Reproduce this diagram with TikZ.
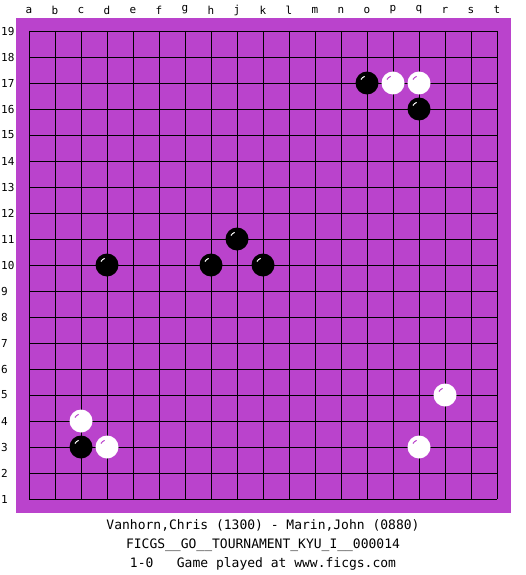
\documentclass[tikz,border=0pt]{standalone}
\usepackage{fontspec}
\setmonofont{DejaVu Sans Mono}
\usepackage{tikz}
\usetikzlibrary{positioning}
\usepackage{xcolor}
\definecolor{boardpurple}{RGB}{186,67,204}
\definecolor{gridblack}{RGB}{0,0,0}

\begin{document}
\begin{tikzpicture}[x=1pt, y=-1pt, every node/.style={font=\ttfamily\fontsize{11}{11}\selectfont, inner sep=0pt},
    blackstone/.style={circle, fill=black, minimum size=23pt},
    whitestone/.style={circle, fill=white, minimum size=23pt},
    infoline/.style={font=\ttfamily\fontsize{13}{13}\selectfont, anchor=base}]
  \useasboundingbox[fill=white] (0,0) rectangle (525,575);
  \fill[boardpurple] (16,18) rectangle (511,513);
  % grid 19x19
  \foreach \i in {0,...,18} {
    \draw[gridblack, line width=0.9pt] ({29+26*\i},31) -- ({29+26*\i},499);
    \draw[gridblack, line width=0.9pt] (29,{31+26*\i}) -- (497,{31+26*\i});
  }
  % coordinates
  \foreach \l [count=\i from 0] in {a,b,c,d,e,f,g,h,j,k,l,m,n,o,p,q,r,s,t}
    \node (col-\l) at ({29+26*\i},10) {\l};
  \foreach \r in {1,...,19}
    \node[anchor=west] (row-\r) at (1,{499-26*(\r-1)}) {\r};
  % stones
  \foreach \c/\r/\nm in {13/17/o17, 15/16/q16, 3/10/d10, 7/10/h10, 8/11/j11, 9/10/k10, 2/3/c3} {
    \node[blackstone] (\nm) at ({29+26*\c},{499-26*(\r-1)}) {};
    \draw[white, line width=1pt] (\nm.center) ++(250:7) arc (250:210:7);
  }
  \foreach \c/\r/\nm in {14/17/p17, 15/17/q17, 2/4/c4, 3/3/d3, 16/5/r5, 15/3/q3} {
    \node[whitestone] (\nm) at ({29+26*\c},{499-26*(\r-1)}) {};
    \draw[boardpurple, line width=1pt] (\nm.center) ++(250:7) arc (250:210:7);
  }
  % game info
  \node[infoline] (players) at (263,529.5) {Vanhorn,Chris (1300) - Marin,John (0880)};
  \node[infoline] (event) at (263,548.5) {FICGS\_\_GO\_\_TOURNAMENT\_KYU\_I\_\_000014};
  \node[infoline] (result) at (263,567.5) {1-0\ \ \ Game played at www.ficgs.com};
\end{tikzpicture}
\end{document}
